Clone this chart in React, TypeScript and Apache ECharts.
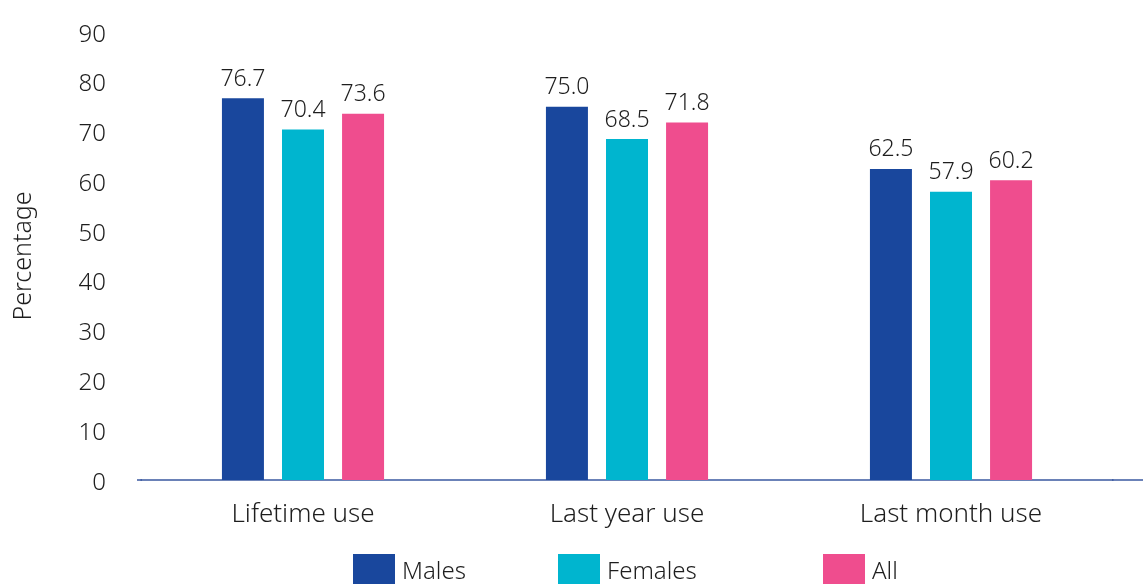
import React, { useEffect, useRef } from "react";
import * as echarts from "echarts";

const categories = ["Lifetime use", "Last year use", "Last month use"];
const males = [76.7, 75.0, 62.5];
const females = [70.4, 68.5, 57.9];
const all = [73.6, 71.8, 60.2];
const seriesNames = ["Males", "Females", "All"];
const colors = ["#19479d", "#00b5cf", "#ef4d8e"];
const legendLeft = [348, 553, 818];

const FONT = "Noto Sans";
const TEXT = "#1e1e1e";
const AXIS = "#3a58a0";
const WEIGHT = 350;

export default function App() {
  const ref = useRef<HTMLDivElement>(null);

  useEffect(() => {
    if (!ref.current) return;
    const chart = echarts.init(ref.current, null, { renderer: "svg" });
    const values = [males, females, all];
    chart.setOption({
      animation: false,
      textStyle: { fontFamily: FONT, color: TEXT, fontWeight: WEIGHT },
      grid: { left: 141, right: 30, top: 32, bottom: 104 },
      legend: seriesNames.map((name, i) => ({
        data: [name],
        left: legendLeft[i],
        top: 549,
        itemWidth: 42,
        itemHeight: 30,
        itemGap: 0,
        icon: "rect",
        textStyle: { fontFamily: FONT, fontSize: 24, fontWeight: WEIGHT, color: TEXT, padding: [4, 0, 0, 2] },
        selectedMode: false,
      })),
      xAxis: {
        type: "category",
        data: categories,
        axisLine: { show: true, lineStyle: { color: AXIS, width: 1.5 } },
        axisTick: { show: false },
        axisLabel: { fontFamily: FONT, fontSize: 26, fontWeight: WEIGHT, color: TEXT, margin: 19 },
      },
      yAxis: {
        type: "value",
        min: 0,
        max: 90,
        interval: 10,
        name: "Percentage",
        nameLocation: "middle",
        nameGap: 108,
        nameRotate: 90,
        nameTextStyle: { fontFamily: FONT, fontSize: 25, fontWeight: WEIGHT, color: TEXT },
        axisLine: { show: false },
        axisTick: { show: false },
        splitLine: { show: false },
        axisLabel: { fontFamily: FONT, fontSize: 24, fontWeight: WEIGHT, color: TEXT, margin: 35 },
      },
      graphic: [
        {
          type: "line",
          shape: { x1: 137, y1: 480, x2: 142, y2: 480 },
          style: { stroke: AXIS, lineWidth: 1.5 },
        },
        {
          type: "line",
          shape: { x1: 1112, y1: 480, x2: 1143, y2: 480 },
          style: { stroke: AXIS, lineWidth: 1.5 },
        },
      ],
      series: seriesNames.map((name, i) => ({
        name,
        type: "bar",
        data: values[i],
        barWidth: 42,
        barGap: "43%",
        itemStyle: { color: colors[i] },
        label: {
          show: true,
          position: "top",
          distance: 10,
          fontFamily: FONT,
          fontSize: 23,
          fontWeight: WEIGHT,
          color: TEXT,
          formatter: (p: any) => Number(p.value).toFixed(1),
        },
      })),
    });
    return () => chart.dispose();
  }, []);

  return (
    <div
      ref={ref}
      style={{ position: "fixed", left: 0, top: 0, width: 1143, height: 584 }}
    />
  );
}
